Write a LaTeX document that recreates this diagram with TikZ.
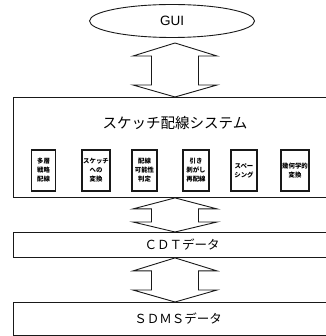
\documentclass[tikz,border=0pt]{standalone}
\usepackage{fontspec}
\setmainfont{Noto Sans CJK JP}
\newfontfamily\latinfont{Liberation Sans}
\usetikzlibrary{shapes.geometric,calc}
\tikzset{
  line/.style={draw=black!90, line width=0.9pt},
  bigbox/.style={line, anchor=north west, inner sep=0pt, minimum width=313pt},
  smallbox/.style={line, line width=1.1pt, inner sep=0pt, minimum width=26pt, minimum height=41pt,
     font=\fontsize{6.4}{9}\selectfont\bfseries, align=center},
  bigarr/.style={line, line join=miter},
}
\newcommand\bigarrow[4]{%
  \draw[bigarr] (#1) -- ($(#1)+(42,#3)$) -- ($(#1)+(23.5,#3)$) -- ($(#2)+(23.5,-#4)$)
    -- ($(#2)+(42,-#4)$) -- (#2) -- ($(#2)+(-42,-#4)$) -- ($(#2)+(-23.5,-#4)$)
    -- ($(#1)+(-23.5,#3)$) -- ($(#1)+(-42,#3)$) -- cycle;}
\begin{document}
\begin{tikzpicture}[x=1pt,y=-1pt]
\useasboundingbox (0,0) rectangle (325,336);
% GUI
\node[line, ellipse, minimum width=165pt, minimum height=33pt, inner sep=0pt,
      font=\latinfont\fontsize{13.5}{14}\selectfont] (gui) at (172,21) {\raisebox{-2pt}{GUI}};
% system box
\node[bigbox, minimum height=100pt] (sys) at (13,97) {};
\node[font=\fontsize{14.5}{16}\selectfont] (title) at (175,123) {スケッチ配線システム};
\node[smallbox, minimum width=24pt] (m1) at (43.5,170.5) {多層\\戦略\\配線};
\node[smallbox, minimum width=28pt] (m2) at (96,170.5) {スケッチ\\への\\変換};
\node[smallbox, minimum width=25pt] (m3) at (144.5,170.5) {配線\\可能性\\判定};
\node[smallbox, minimum width=26pt] (m4) at (196,170.5) {引き\\剥がし\\再配線};
\node[smallbox, minimum width=26pt] (m5) at (244,170.5) {スペー\\シング};
\node[smallbox, minimum width=28pt] (m6) at (295,170.5) {幾何学的\\変換};
% data boxes
\node[bigbox, minimum height=25pt] (cdt) at (13,232) {};
\node[font=\fontsize{12.5}{14}\selectfont] (cdtt) at (182,245) {ＣＤＴデータ};
\node[bigbox, minimum height=33pt] (sdms) at (13,302) {};
\node[font=\fontsize{12.5}{14}\selectfont] (sdmst) at (178,318.5) {ＳＤＭＳデータ};
% arrows
\coordinate (a1t) at (175,43);
\coordinate (a1b) at (a1t |- sys.north);
\coordinate (a2t) at (a1t |- sys.south);
\coordinate (a2b) at (a1t |- cdt.north);
\coordinate (a3t) at (a1t |- cdt.south);
\coordinate (a3b) at (a1t |- sdms.north);
\bigarrow{a1t}{a1b}{13}{12}
\bigarrow{a2t}{a2b}{11}{10}
\bigarrow{a3t}{a3b}{13}{12}
\end{tikzpicture}
\end{document}
